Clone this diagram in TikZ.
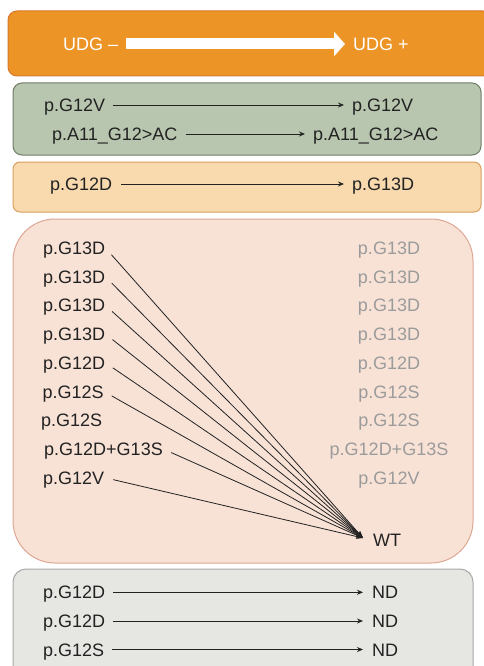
\documentclass[tikz,border=0pt]{standalone}
\usepackage{fontspec}
\setmainfont{Liberation Sans}
\usetikzlibrary{arrows.meta}
\definecolor{orgfill}{HTML}{EC9426}
\definecolor{orgdraw}{HTML}{D9782C}
\definecolor{grnfill}{HTML}{B9C6AF}
\definecolor{grndraw}{HTML}{6F7C66}
\definecolor{lorfill}{HTML}{F9D9AE}
\definecolor{lordraw}{HTML}{D9A060}
\definecolor{pnkfill}{HTML}{F8E2D6}
\definecolor{pnkdraw}{HTML}{DDA793}
\definecolor{gryfill}{HTML}{E6E6E3}
\definecolor{grydraw}{HTML}{A8A8A8}
\definecolor{txtblack}{HTML}{222222}
\definecolor{txtgrey}{HTML}{9B9B9B}
\begin{document}
\begin{tikzpicture}[x=1pt,y=-1pt,
  lbl/.style={anchor=west, inner sep=0pt, text height=13pt, text depth=0pt,
    font=\fontsize{18}{21}\selectfont, text=txtblack},
  glbl/.style={lbl, anchor=center, text=txtgrey},
  wlbl/.style={lbl, text=white},
  conn/.style={draw=txtblack, line width=0.8pt, -{Stealth[length=6pt,width=5pt]},
    shorten <=8pt, shorten >=8pt},
  fan/.style={draw=txtblack, line width=0.8pt, -{Stealth[length=7pt,width=5pt]},
    shorten <=9pt},
  panel/.style={line width=1pt}
]
\clip (0,0) rectangle (484,666);
\fill[white] (0,0) rectangle (484,666);

% panels
\draw[panel, fill=orgfill, draw=orgdraw, rounded corners=9pt] (8,11) rectangle (492,76);
\draw[panel, fill=grnfill, draw=grndraw, rounded corners=9pt] (13,83) rectangle (481,155);
\draw[panel, fill=lorfill, draw=lordraw, rounded corners=7pt] (13,162) rectangle (481,212);
\draw[panel, fill=pnkfill, draw=pnkdraw, rounded corners=42pt] (13,219) rectangle (473,563);
\draw[panel, fill=gryfill, draw=grydraw, rounded corners=13pt] (13,569) rectangle (473,690);

% UDG header
\node[wlbl] (udgm) at (63,44) {UDG –};
\node[wlbl] (udgp) at (353,44) {UDG +};
\draw[white, line width=11pt, -{Triangle[length=11pt 0 0,width=24pt 0 0]},
  shorten <=8pt, shorten >=8pt] (udgm.east) -- (udgp.west);

% green panel
\node[lbl] (g1a) at (44,105) {p.G12V};
\node[lbl] (g1b) at (352,105) {p.G12V};
\node[lbl] (g2a) at (52,134) {p.A11\_G12>AC};
\node[lbl] (g2b) at (313,134) {p.A11\_G12>AC};
\draw[conn] (g1a.east) -- (g1b.west);
\draw[conn] (g2a.east) -- (g2b.west);

% light orange panel
\node[lbl] (o1a) at (50,184) {p.G12D};
\node[lbl] (o1b) at (352,184) {p.G13D};
\draw[conn, shorten <=9pt] (o1a.east) -- (o1b.west);

% pink panel
\node[lbl] (l1) at (43,248) {p.G13D};
\node[lbl] (l2) at (43,276.7) {p.G13D};
\node[lbl] (l3) at (43,305.4) {p.G13D};
\node[lbl] (l4) at (43,334) {p.G13D};
\node[lbl] (l5) at (43,362.8) {p.G12D};
\node[lbl] (l6) at (42.5,391.5) {p.G12S};
\node[lbl] (l7) at (41,420) {p.G12S};
\node[lbl] (l8) at (44,448.9) {p.G12D+G13S};
\node[lbl] (l9) at (43,477.6) {p.G12V};

\node[glbl] (r1) at (389,248) {p.G13D};
\node[glbl] (r2) at (389,276.7) {p.G13D};
\node[glbl] (r3) at (389,305.4) {p.G13D};
\node[glbl] (r4) at (389,334) {p.G13D};
\node[glbl] (r5) at (389,362.8) {p.G12D};
\node[glbl] (r6) at (389,391.5) {p.G12S};
\node[glbl] (r7) at (389,420) {p.G12S};
\node[glbl] (r8) at (389,448.9) {p.G12D+G13S};
\node[glbl] (r9) at (389,477.6) {p.G12V};

\node[lbl] (wt) at (373,540) {WT};
\coordinate (tip) at (363,538);
\foreach \i in {1,2,3,4,5,6,8,9} {
  \draw[fan] (l\i.east) -- (tip);
}

% grey panel
\node[lbl] (n1a) at (43,592.3) {p.G12D};
\node[lbl] (n2a) at (43,621) {p.G12D};
\node[lbl] (n3a) at (43,649.5) {p.G12S};
\node[lbl] (n1b) at (372,592.3) {ND};
\node[lbl] (n2b) at (372,621) {ND};
\node[lbl] (n3b) at (372,649.5) {ND};
\draw[conn, shorten >=9pt] (n1a.east) -- (n1b.west);
\draw[conn, shorten >=9pt] (n2a.east) -- (n2b.west);
\draw[conn, shorten >=9pt] (n3a.east) -- (n3b.west);
\end{tikzpicture}
\end{document}
